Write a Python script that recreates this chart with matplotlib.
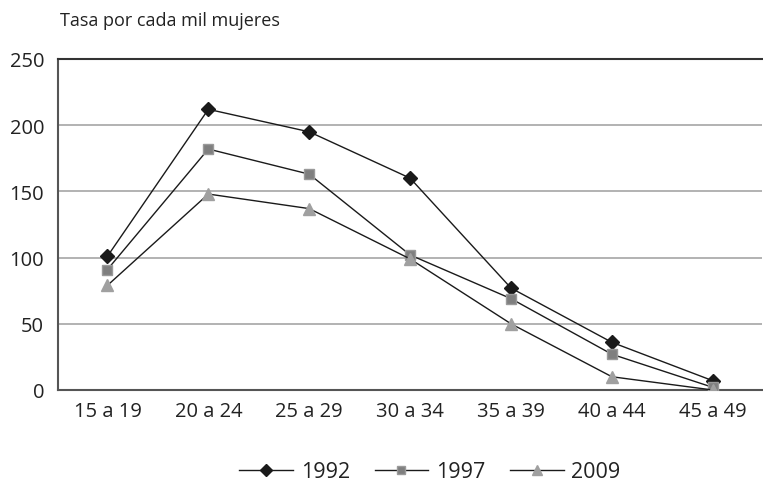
import matplotlib
matplotlib.use("Agg")
import matplotlib.pyplot as plt

plt.rcParams['font.family'] = ['Open Sans', 'DejaVu Sans']

categories = ["15 a 19", "20 a 24", "25 a 29", "30 a 34", "35 a 39", "40 a 44", "45 a 49"]
s1992 = [101, 212, 195, 160, 77, 36, 7]
s1997 = [91, 182, 163, 102, 69, 27, 2]
s2009 = [79, 148, 137, 99, 50, 10, 0]
yticks = [0, 50, 100, 150, 200, 250]

fig = plt.figure(figsize=(7.63, 4.85), dpi=100)
ax = fig.add_axes([58/763, 1-391/485, 1-58/763-0.001, (391-60)/485])

x = list(range(len(categories)))
for y in yticks[1:-1]:
    ax.axhline(y, color='#a6a6a6', lw=1.2, zorder=0)

ax.plot(x, s1992, color='#1a1a1a', lw=1.0, marker='D', ms=7.5, mfc='#1a1a1a', mec='#1a1a1a', zorder=3, label='1992')
ax.plot(x, s1997, color='#1a1a1a', lw=1.0, marker='s', ms=7.5, mfc='#7f7f7f', mec='#9a9a9a', zorder=3, label='1997')
ax.plot(x, s2009, color='#1a1a1a', lw=1.0, marker='^', ms=9, mfc='#a0a0a0', mec='#a0a0a0', zorder=3, label='2009')

ax.set_xlim(-0.49, 6.49)
ax.set_ylim(0, 250)
ax.set_yticks(yticks)
ax.set_xticks(x)
ax.set_xticklabels(categories)
ax.tick_params(axis='both', length=0, labelsize=14.5, colors='#222222')
ax.tick_params(axis='y', pad=10)
ax.tick_params(axis='x', pad=8)
ax.spines['right'].set_visible(False)
ax.spines['top'].set_color('#333333')
ax.spines['top'].set_linewidth(1.5)
ax.spines['left'].set_color('#555555')
ax.spines['left'].set_linewidth(1.5)
ax.spines['bottom'].set_color('#555555')
ax.spines['bottom'].set_linewidth(1.5)

fig.text(60/763, 1-21/485, "Tasa por cada mil mujeres", fontsize=13, va='center', ha='left', color='#222222')

fig.legend(loc='center', bbox_to_anchor=(430/763, 1-473/485), ncol=3, frameon=False,
           fontsize=15.5, handlelength=2.5, columnspacing=1.15, handletextpad=0.35,
           markerscale=0.8, labelcolor='#222222')

fig.savefig("out.png", dpi=100)
